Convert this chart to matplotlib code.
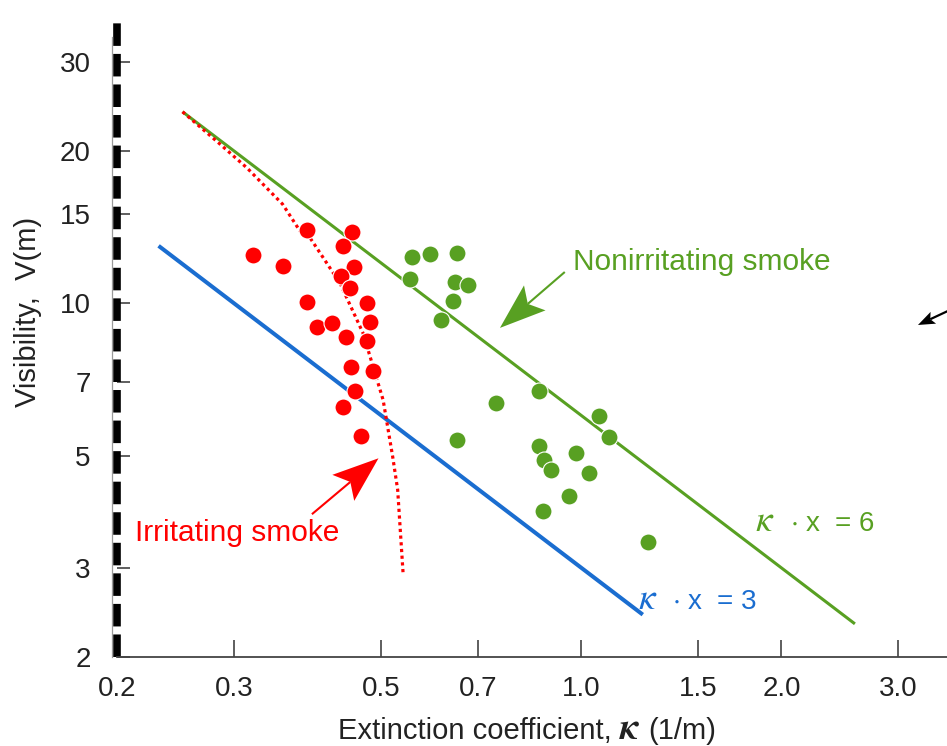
import matplotlib
matplotlib.use("Agg")
import matplotlib.pyplot as plt
import numpy as np
from matplotlib.lines import Line2D
from matplotlib.patches import Polygon
from matplotlib.offsetbox import TextArea, HPacker, AnchoredOffsetbox

plt.rcParams["font.family"] = ["Liberation Sans", "DejaVu Sans"]
plt.rcParams["mathtext.fontset"] = "stix"

W, H = 947, 746

GREEN = "#58a022"
RED = "#ff0000"
BLUE = "#1a6dd0"
AXIS = "#333333"
INK = "#222222"

# measured smoke data: extinction coefficient (1/m) and visibility (m)
irritating_k = [0.320, 0.355, 0.386, 0.451, 0.438, 0.454, 0.434, 0.448, 0.386, 0.475,
                0.400, 0.422, 0.481, 0.443, 0.476, 0.450, 0.486, 0.457, 0.437, 0.466]
irritating_v = [12.46, 11.87, 13.96, 13.82, 13.00, 11.81, 11.32, 10.71, 10.05, 10.00,
                8.99, 9.16, 9.20, 8.59, 8.44, 7.50, 7.36, 6.71, 6.25, 5.47]

nonirritating_k = [0.556, 0.592, 0.650, 0.552, 0.645, 0.674, 0.641, 0.614, 0.863, 0.743,
                   1.062, 1.100, 0.649, 0.864, 0.877, 0.900, 0.981, 1.025, 0.959, 0.876,
                   1.261]
nonirritating_v = [12.36, 12.52, 12.56, 11.17, 11.03, 10.87, 10.12, 9.27, 6.71, 6.36,
                   5.98, 5.44, 5.37, 5.22, 4.90, 4.68, 5.05, 4.61, 4.16, 3.89,
                   3.38]

# trend of the irritating smoke (dotted curve)
irritating_trend_k = [0.251, 0.285, 0.314, 0.355, 0.377, 0.390, 0.433, 0.469, 0.503,
                      0.520, 0.529, 0.539]
irritating_trend_v = [23.9, 20.7, 18.5, 15.7, 13.9, 13.5, 10.97, 8.74, 6.44,
                      4.97, 4.28, 2.93]

# visibility lines  V = C / kappa
C_NONIRRITATING = 6
C_IRRITATING = 3
nonirritating_line_k = [0.251, 2.58]
irritating_line_k = [0.231, 1.237]

x_ticks = [0.2, 0.3, 0.5, 0.7, 1.0, 1.5, 2.0, 3.0]
x_ticklabels = ["0.2", "0.3", "0.5", "0.7", "1.0", "1.5", "2.0", "3.0"]
y_ticks = [2, 3, 5, 7, 10, 15, 20, 30]
y_ticklabels = ["2", "3", "5", "7", "10", "15", "20", "30"]


def stealth_arrow(ax, tail, tip, color, lw, head_len, head_w, notch=0.2):
    """Straight shaft with a filled, slightly swept-back head (sizes in pixels)."""
    T = ax.transData
    p0 = np.asarray(T.transform(tail))
    p1 = np.asarray(T.transform(tip))
    u = (p1 - p0) / np.hypot(*(p1 - p0))
    n = np.array([-u[1], u[0]])
    base = p1 - u * head_len
    back = p1 - u * head_len * (1 - notch)
    head = np.array([p1, base + n * head_w / 2, back, base - n * head_w / 2])
    inv = T.inverted()
    shaft = inv.transform(np.array([p0, back]))
    ax.plot(shaft[:, 0], shaft[:, 1], color=color, lw=lw, clip_on=False,
            solid_capstyle="butt")
    ax.add_patch(Polygon(inv.transform(head), closed=True, facecolor=color,
                         edgecolor="none", clip_on=False))


def kappa_label(ax, x_kappa, x_rest, y, rest, color):
    ax.text(x_kappa, y, r"$\kappa$", color=color, fontsize=27, ha="left",
            va="baseline")
    ax.text(x_rest, y, rest, color=color, fontsize=20, ha="left", va="baseline")


fig = plt.figure(figsize=(W / 100, H / 100), dpi=100)
ax = fig.add_axes([117 / W, (H - 657) / H, 1 - 117 / W, (657 - 23) / H])
ax.set_xscale("log")
ax.set_yscale("log")
ax.set_xlim(0.2, 3.55)
ax.set_ylim(2, 35.8)

ax.set_xticks(x_ticks)
ax.set_xticklabels(x_ticklabels)
ax.set_yticks(y_ticks)
ax.set_yticklabels(y_ticklabels)
ax.minorticks_off()
ax.tick_params(axis="x", direction="in", length=12.5, width=1.1, color=AXIS,
               labelcolor=INK, labelsize=20, pad=14)
ax.tick_params(axis="y", direction="in", length=9, width=1.1, color=AXIS,
               labelcolor=INK, labelsize=20, pad=19)

for side in ("top", "right"):
    ax.spines[side].set_visible(False)
ax.spines["bottom"].set_color("#444444")
ax.spines["bottom"].set_linewidth(1.3)
ax.spines["left"].set_color("black")
ax.spines["left"].set_linewidth(5.5)
ax.spines["left"].set_linestyle((0, (2.95, 1.05)))
ax.spines["left"].set_capstyle("butt")
fig.add_artist(Line2D([112 / W, 112 / W], [(H - 657) / H, (H - 37) / H],
                      color="#9a9a9a", lw=0.9))

# x label with a larger bold kappa
xlabel = HPacker(children=[
    TextArea("Extinction coefficient,", textprops=dict(fontsize=21, color=INK)),
    TextArea(r"$\boldsymbol{\kappa}$", textprops=dict(fontsize=27, color=INK)),
    TextArea("(1/m)", textprops=dict(fontsize=21, color=INK)),
], align="baseline", pad=0, sep=5)
fig.add_artist(AnchoredOffsetbox(loc="center", child=xlabel, frameon=False, pad=0,
                                 borderpad=0, bbox_to_anchor=(527 / W, (H - 729) / H),
                                 bbox_transform=fig.transFigure))
fig.text(28 / W, (H - 312) / H, "Visibility,  V(m)", rotation=90, fontsize=21,
         color=INK, ha="center", va="center")

# constant-visibility lines
k = np.array(nonirritating_line_k)
ax.plot(k, C_NONIRRITATING / k, color=GREEN, lw=2.2, solid_capstyle="butt", zorder=2)
k = np.array(irritating_line_k)
ax.plot(k, C_IRRITATING / k, color=BLUE, lw=2.9, solid_capstyle="butt", zorder=2)
ax.plot(irritating_trend_k, irritating_trend_v, color=RED, lw=2.3,
        linestyle=(0, (1, 1.1)), zorder=2)

ax.scatter(irritating_k, irritating_v, s=150, color=RED, edgecolor="white",
           linewidth=0.8, zorder=3)
ax.scatter(nonirritating_k, nonirritating_v, s=150, color=GREEN, edgecolor="white",
           linewidth=0.8, zorder=3)

ax.text(0.971, 12.07, "Nonirritating smoke", color=GREEN, fontsize=21.5,
        ha="left", va="center")
ax.text(0.213, 3.52, "Irritating smoke", color=RED, fontsize=21.5,
        ha="left", va="center")
kappa_label(ax, 1.824, 2.058, 3.55, r"$\cdot$ x  = 6", GREEN)
kappa_label(ax, 1.216, 1.368, 2.49, r"$\cdot$ x  = 3", BLUE)

stealth_arrow(ax, (0.944, 11.53), (0.754, 8.94), GREEN, 1.5, 46, 33)
stealth_arrow(ax, (0.393, 3.83), (0.495, 4.94), RED, 1.5, 46, 34)
stealth_arrow(ax, (3.98, 10.34), (3.21, 9.06), "black", 1.6, 17, 13)

fig.savefig("out.png", dpi=100)
